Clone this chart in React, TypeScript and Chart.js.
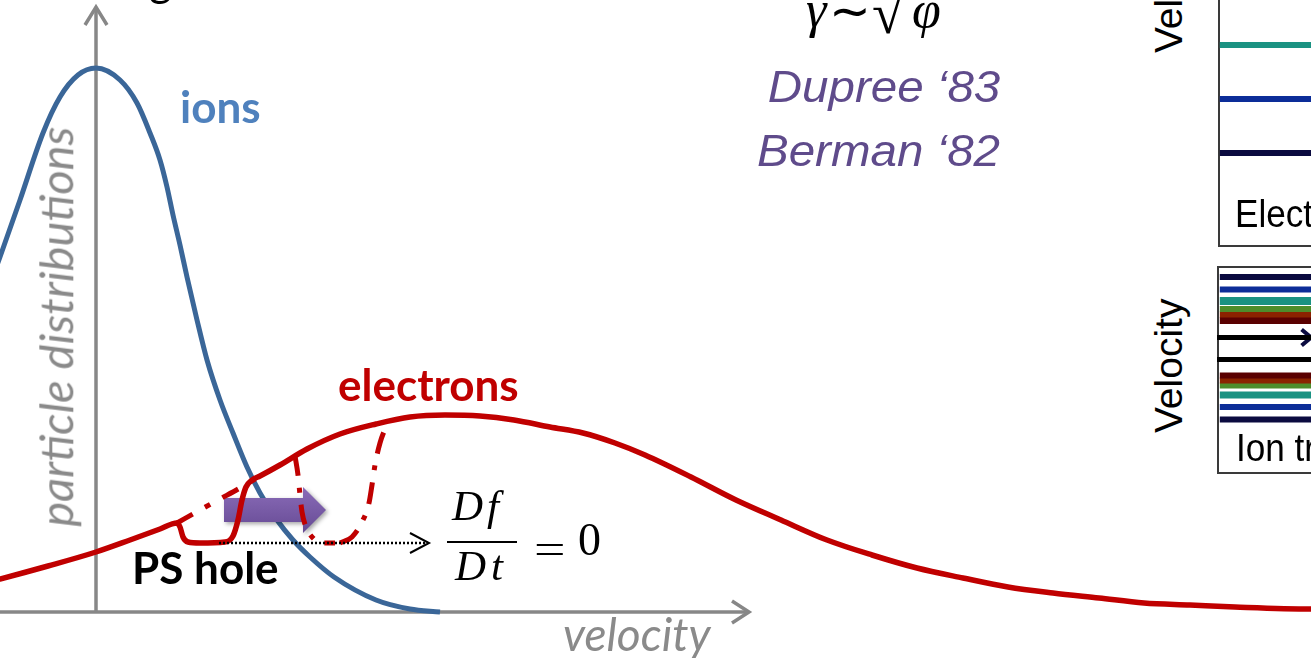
import React, { useEffect, useRef } from "react";
import { Chart, registerables } from "chart.js";

Chart.register(...registerables);

const W = 1311;
const H = 658;

// ---------- main sketch data: velocity v, distribution f ----------
const ionV = [-1.0, -0.96, -0.76, -0.53, -0.36, -0.18, 0, 0.24, 0.41, 0.54, 0.64, 0.71, 0.77, 0.84, 0.91, 1.01, 1.11, 1.24, 1.37, 1.51, 1.64, 1.81, 1.97, 2.14, 2.38, 2.8, 3.14, 3.44];
const ionF = [3.44, 3.55, 4.12, 4.79, 5.15, 5.37, 5.44, 5.32, 5.09, 4.79, 4.52, 4.25, 3.97, 3.67, 3.35, 2.92, 2.52, 2.12, 1.79, 1.45, 1.19, 0.92, 0.72, 0.55, 0.35, 0.12, 0.03, 0.0];

const electronV = [-1.0, -0.96, -0.48, 0, 0.34, 0.64, 0.81, 0.84, 0.87, 0.92, 1.04, 1.29, 1.37, 1.42, 1.46, 1.5, 1.56, 1.64, 1.84, 2.11, 2.44, 2.8, 3.14, 3.49, 3.84, 4.18, 4.54, 4.87, 5.19, 5.49, 5.95, 6.4, 6.85, 7.31, 7.76, 8.21, 8.67, 9.12, 9.57, 10.03, 10.48, 10.94, 11.39, 12.15, 12.2];
const electronF = [0.32, 0.33, 0.46, 0.6, 0.72, 0.83, 0.89, 0.85, 0.75, 0.7, 0.69, 0.7, 0.76, 0.92, 1.12, 1.25, 1.32, 1.36, 1.47, 1.63, 1.78, 1.88, 1.95, 1.97, 1.96, 1.92, 1.85, 1.79, 1.69, 1.57, 1.35, 1.12, 0.92, 0.72, 0.57, 0.44, 0.34, 0.25, 0.19, 0.14, 0.09, 0.07, 0.05, 0.03, 0.03];

// unperturbed maxwellian across the hole
const maxwellV = [0.81, 1.04, 1.24, 1.44, 1.64];
const maxwellF = [0.89, 1.02, 1.13, 1.24, 1.36];

// shifted hole positions (dash-dot)
const hole1V = [1.99, 2.02, 2.04, 2.06, 2.1, 2.17, 2.26, 2.39];
const hole1F = [1.56, 1.37, 1.17, 1.0, 0.85, 0.74, 0.69, 0.69];
const hole2V = [2.44, 2.56, 2.66, 2.73, 2.76, 2.79, 2.84, 2.92];
const hole2F = [0.69, 0.75, 0.9, 1.09, 1.27, 1.47, 1.69, 1.9];

// dotted streamline arrow
const streamV = [1.23, 3.32];
const streamF = [0.69, 0.69];
const streamHeadV = [3.14, 3.33, 3.14];
const streamHeadF = [0.79, 0.69, 0.59];

// purple drift arrow
const driftV = [1.28, 2.07, 2.07, 2.3, 2.07, 2.07, 1.28];
const driftF = [1.14, 1.14, 1.25, 1.02, 0.79, 0.9, 0.9];

// axes
const axisXV = [-1.0, 6.52];
const axisXF = [0, 0];
const axisXHeadV = [6.36, 6.53, 6.36];
const axisXHeadF = [0.11, 0, -0.11];
const axisYV = [0, 0];
const axisYF = [0, 6.05];
const axisYHeadV = [-0.11, 0, 0.11];
const axisYHeadF = [5.87, 6.05, 5.87];

// ---------- trajectory panels (velocity levels) ----------
const electronLevels = [2.01, 1.47, 0.93];
const ionLevels = [1.96, 1.835, 1.72, 1.64, 1.585, 1.525, 0.975, 0.925, 0.875, 0.78, 0.66, 0.535];
const trappedLevels = [1.355, 1.135];
const trappedHeadT = [0.9, 1.0, 0.9];
const trappedHeadV = [1.435, 1.355, 1.275];

// styles
const electronLevelColors = ["#1a9282", "#0c2d98", "#0b0b40"];
const ionLevelColors = ["#0b0b40", "#0c2d98", "#1a9282", "#4e8d2b", "#8b2300", "#5a0000", "#5a0000", "#8b2300", "#4e8d2b", "#1a9282", "#0c2d98", "#0b0b40"];
const ionLevelWidths = [6, 6, 8, 6, 6, 7, 6, 6, 6, 7, 6, 6];

const pts = (xs: number[], ys: number[]) => xs.map((x, i) => ({ x, y: ys[i] }));

const RED = "#c00000";
const BLUE = "#3a6698";
const GRAY = "#878787";

const driftPlugin = {
  id: "driftArrow",
  afterDatasetDraw(chart: any, args: any) {
    const ds = chart.data.datasets[args.index];
    if (ds.label !== "drift") return;
    const p = args.meta.data;
    const ctx = chart.ctx;
    ctx.save();
    ctx.beginPath();
    p.forEach((e: any, i: number) => (i ? ctx.lineTo(e.x, e.y) : ctx.moveTo(e.x, e.y)));
    ctx.closePath();
    const ys = p.map((e: any) => e.y);
    const g = ctx.createLinearGradient(0, Math.min(...ys), 0, Math.max(...ys));
    g.addColorStop(0, "#8a6cb8");
    g.addColorStop(1, "#664a94");
    ctx.shadowColor = "rgba(0,0,0,0.35)";
    ctx.shadowBlur = 4;
    ctx.shadowOffsetX = 2;
    ctx.shadowOffsetY = 2;
    ctx.fillStyle = g;
    ctx.fill();
    ctx.restore();
  },
};

function MainChart() {
  const ref = useRef<HTMLCanvasElement>(null);
  useEffect(() => {
    const curve = { cubicInterpolationMode: "monotone" as const, pointRadius: 0, fill: false };
    const straight = { tension: 0, pointRadius: 0, fill: false };
    const chart = new Chart(ref.current!, {
      type: "line",
      data: {
        datasets: [
          { ...straight, label: "stream", data: pts(streamV, streamF), borderColor: "#000", borderWidth: 2.5, borderDash: [2, 2], order: 0 },
          { ...straight, label: "streamHead", data: pts(streamHeadV, streamHeadF), borderColor: "#000", borderWidth: 2, order: 0 },
          { ...curve, label: "electrons", data: pts(electronV, electronF), borderColor: RED, borderWidth: 5.5, order: 1 },
          { ...curve, label: "maxwellian", data: pts(maxwellV, maxwellF), borderColor: RED, borderWidth: 5, borderDash: [18, 14, 6, 14], order: 1 },
          { ...curve, label: "hole1", data: pts(hole1V, hole1F), borderColor: RED, borderWidth: 5, borderDash: [20, 12, 5, 12], order: 1 },
          { ...curve, label: "hole2", data: pts(hole2V, hole2F), borderColor: RED, borderWidth: 5, borderDash: [22, 12, 5, 12], order: 1 },
          { ...straight, label: "drift", data: pts(driftV, driftF), showLine: false, order: 2 },
          { ...curve, label: "ions", data: pts(ionV, ionF), borderColor: BLUE, borderWidth: 5, order: 3 },
          { ...straight, label: "axisX", data: pts(axisXV, axisXF), borderColor: GRAY, borderWidth: 3.5, order: 4 },
          { ...straight, label: "axisXHead", data: pts(axisXHeadV, axisXHeadF), borderColor: GRAY, borderWidth: 3.5, order: 4 },
          { ...straight, label: "axisY", data: pts(axisYV, axisYF), borderColor: GRAY, borderWidth: 3.5, order: 4 },
          { ...straight, label: "axisYHead", data: pts(axisYHeadV, axisYHeadF), borderColor: GRAY, borderWidth: 3.5, order: 4 },
        ] as any,
      },
      options: {
        responsive: false,
        animation: false,
        events: [],
        layout: { padding: 0 },
        plugins: { legend: { display: false }, tooltip: { enabled: false } },
        scales: {
          x: { type: "linear", min: -0.96, max: 12.15, display: false },
          y: { type: "linear", min: -0.46, max: 6.12, display: false },
        },
      },
      plugins: [driftPlugin],
    });
    return () => chart.destroy();
  }, []);
  return <canvas ref={ref} width={W} height={H} style={{ position: "absolute", left: 0, top: 0 }} />;
}

function PanelChart(props: { left: number; top: number; width: number; height: number; vmax: number; levels: number[]; colors: string[]; widths: number[]; trapped?: boolean }) {
  const ref = useRef<HTMLCanvasElement>(null);
  useEffect(() => {
    const datasets: any[] = props.levels.map((v, i) => ({
      data: [{ x: 0.03, y: v }, { x: 1, y: v }],
      borderColor: props.colors[i],
      borderWidth: props.widths[i],
      pointRadius: 0,
      tension: 0,
    }));
    if (props.trapped) {
      trappedLevels.forEach((v) =>
        datasets.push({ data: [{ x: 0, y: v }, { x: 1, y: v }], borderColor: "#000", borderWidth: 5, pointRadius: 0, tension: 0 })
      );
      datasets.push({ data: pts(trappedHeadT, trappedHeadV), borderColor: "#0b0b40", borderWidth: 4, pointRadius: 0, tension: 0 });
    }
    const chart = new Chart(ref.current!, {
      type: "line",
      data: { datasets },
      options: {
        responsive: false,
        animation: false,
        events: [],
        layout: { padding: 0 },
        plugins: { legend: { display: false }, tooltip: { enabled: false } },
        scales: {
          x: { type: "linear", min: 0, max: 1, display: false },
          y: { type: "linear", min: 0, max: props.vmax, display: false },
        },
      },
    });
    return () => chart.destroy();
  }, []);
  return (
    <canvas ref={ref} width={props.width} height={props.height} style={{ position: "absolute", left: props.left, top: props.top }} />
  );
}

const LATO = "Lato, 'Noto Sans', sans-serif";
const SANS = "'Liberation Sans', Arial, sans-serif";
const SERIF = "'Liberation Serif', 'Times New Roman', serif";
const K_LATO = 0.887;
const K_SANS = 0.8465;
const K_SERIF = 0.8375;

function Label(p: {
  x: number; y: number; size: number; family: string; k: number; color?: string; weight?: number; italic?: boolean;
  right?: boolean; rotate?: boolean; sx?: number; ls?: number; children: React.ReactNode;
}) {
  const base = p.k * p.size;
  const tf: string[] = [];
  if (p.rotate) tf.push("rotate(-90deg)");
  if (p.sx) tf.push(`scaleX(${p.sx})`);
  const style: React.CSSProperties = {
    position: "absolute",
    top: p.y - base,
    fontFamily: p.family,
    fontSize: p.size,
    lineHeight: `${p.size}px`,
    whiteSpace: "nowrap",
    color: p.color || "#000",
    fontWeight: p.weight || 400,
    fontStyle: p.italic ? "italic" : "normal",
    letterSpacing: p.ls || 0,
    transform: tf.length ? tf.join(" ") : undefined,
  };
  if (p.right) {
    style.right = W - p.x;
    style.transformOrigin = `100% ${base}px`;
  } else {
    style.left = p.x;
    style.transformOrigin = `0px ${base}px`;
  }
  return <div style={style}>{p.children}</div>;
}

export default function App() {
  return (
    <div style={{ position: "fixed", left: 0, top: 0, width: W, height: H, overflow: "hidden", background: "#fff" }}>
      {/* trajectory panels */}
      <div style={{ position: "absolute", left: 1218, top: -6, width: 140, height: 253, border: "2px solid #3a3a3a", boxSizing: "border-box" }} />
      <div style={{ position: "absolute", left: 1217, top: 266, width: 140, height: 208, border: "2px solid #3a3a3a", boxSizing: "border-box" }} />
      <PanelChart left={1217} top={0} width={94} height={246} vmax={2.46} levels={electronLevels} colors={electronLevelColors} widths={[6, 6, 6]} />
      <PanelChart left={1217} top={267} width={94} height={206} vmax={2.06} levels={ionLevels} colors={ionLevelColors} widths={ionLevelWidths} trapped />
      <Label x={1182} y={53} size={39} family={SANS} k={K_SANS} rotate>Velocity</Label>
      <Label x={1182} y={433} size={39} family={SANS} k={K_SANS} rotate>Velocity</Label>
      <Label x={1235} y={227} size={39} family={SANS} k={K_SANS} sx={0.9}>Electron trajectories</Label>
      <Label x={1236} y={461} size={39} family={SANS} k={K_SANS} sx={0.9}>Ion trajectories</Label>

      <MainChart />

      {/* sketch labels */}
      <Label x={149} y={-4} size={44} family={LATO} k={K_LATO}>g</Label>
      <Label x={180} y={123} size={44} family={LATO} k={K_LATO} weight={700} color="#4f81bd">ions</Label>
      <Label x={338} y={401} size={44} family={LATO} k={K_LATO} weight={700} color={RED}>electrons</Label>
      <Label x={132} y={584} size={44} family={LATO} k={K_LATO} weight={700}>PS hole</Label>
      <Label x={74} y={527} size={47} family={LATO} k={K_LATO} italic rotate color="#8a8a8a">particle distributions</Label>
      <Label x={563} y={652} size={46} family={LATO} k={K_LATO} italic color="#8a8a8a">velocity</Label>

      {/* Df/Dt = 0 */}
      <Label x={452} y={520} size={43} family={SERIF} k={K_SERIF} italic ls={4}>Df</Label>
      <div style={{ position: "absolute", left: 447, top: 541, width: 70, height: 2, background: "#000" }} />
      <Label x={455} y={580} size={43} family={SERIF} k={K_SERIF} italic ls={5}>Dt</Label>
      <Label x={534} y={563} size={43} family={SERIF} k={K_SERIF} sx={1.3}>=</Label>
      <Label x={578} y={556} size={46} family={SERIF} k={K_SERIF}>0</Label>

      {/* growth rate */}
      <Label x={806} y={28} size={52} family={SERIF} k={K_SERIF} italic>γ</Label>
      <Label x={829} y={28} size={50} family={SERIF} k={K_SERIF}>∼</Label>
      <Label x={872} y={34} size={58} family={SERIF} k={K_SERIF}>√</Label>
      <Label x={912} y={28} size={52} family={SERIF} k={K_SERIF} italic>φ</Label>

      <Label x={1000} y={102} size={44} family={SANS} k={K_SANS} italic right sx={1.08} color="#5f4b8b">Dupree ‘83</Label>
      <Label x={1000} y={166} size={44} family={SANS} k={K_SANS} italic right sx={1.08} color="#5f4b8b">Berman ‘82</Label>
    </div>
  );
}
